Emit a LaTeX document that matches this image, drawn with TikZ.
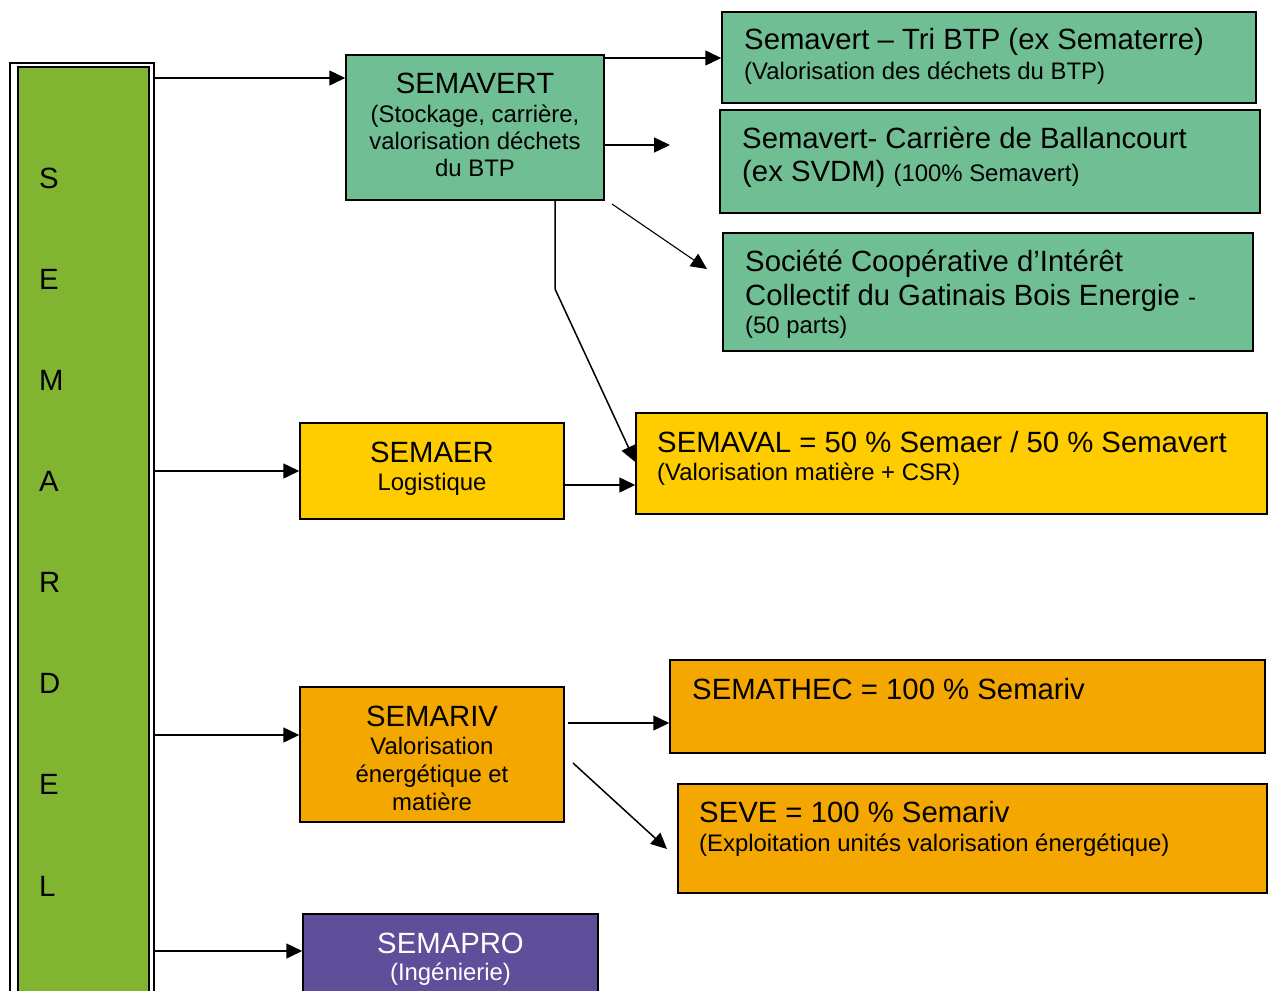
\documentclass[tikz,border=0pt]{standalone}
\usepackage{fontspec}
\setmainfont{Liberation Sans}
\usetikzlibrary{arrows.meta,fit}
\definecolor{bargreen}{HTML}{80B431}
\definecolor{boxgreen}{HTML}{70BE94}
\definecolor{boxyellow}{HTML}{FFCC00}
\definecolor{boxorange}{HTML}{F4A700}
\definecolor{boxpurple}{HTML}{5F4E99}
\newcommand{\bigf}{\fontsize{29.3}{33}\selectfont}
\newcommand{\smf}{\fontsize{23.9}{27}\selectfont}
\begin{document}
\begin{tikzpicture}[x=1pt,y=-1pt,
  box/.style={draw=black,line width=1.5pt,inner sep=0pt},
  arr/.style={line width=1.5pt,-{Triangle[length=16pt,width=15pt]}},
  big/.style={inner sep=0pt,font=\bigf},
  sm/.style={inner sep=0pt,font=\smf},
  lw/.style={anchor=base west},
  cw/.style={anchor=base}]
\useasboundingbox (0,0) rectangle (1268,990);
% left frame
\node[box,fit={(10,63) (154,1010)}] (frameout) {};
\node[box,fill=bargreen,line width=1.2pt,fit={(18,67) (149,1010)}] (bar) {};
\foreach \l/\y [count=\i] in {S/188,E/289,M/390,A/491,R/592,D/693,E/794,L/896}
  \node[big,lw] (letter\i) at (39,\y) {\l};
% boxes
\node[box,fill=boxgreen,fit={(346,55) (604,200)}] (semavert) {};
\node[box,fill=boxgreen,fit={(722,12) (1256,103)}] (tri) {};
\node[box,fill=boxgreen,fit={(720,110) (1260,213)}] (carr) {};
\node[box,fill=boxgreen,fit={(723,233) (1253,351)}] (scic) {};
\node[box,fill=boxyellow,fit={(300,423) (564,519)}] (semaer) {};
\node[box,fill=boxyellow,fit={(636,413) (1267,514)}] (semaval) {};
\node[box,fill=boxorange,fit={(300,687) (564,822)}] (semariv) {};
\node[box,fill=boxorange,fit={(670,660) (1265,753)}] (semathec) {};
\node[box,fill=boxorange,fit={(678,784) (1267,893)}] (seve) {};
\node[box,fill=boxpurple,fit={(303,914) (598,1010)}] (semapro) {};
% texts
\node[big,cw] (t1) at (475,93) {SEMAVERT};
\node[sm,cw] (t2) at (475,122) {(Stockage, carrière,};
\node[sm,cw] (t3) at (475,149.5) {valorisation déchets};
\node[sm,cw] (t4) at (475,176.5) {du BTP};
\node[big,lw] (t5) at (744,50) {Semavert – Tri BTP (ex Sematerre)};
\node[sm,lw] (t6) at (744,79.5) {(Valorisation des déchets du BTP)};
\node[big,lw] (t7) at (742,148) {Semavert- Carrière de Ballancourt};
\node[big,lw] (t8) at (742,181) {(ex SVDM) {\smf (100\% Semavert)}};
\node[big,lw] (t9) at (745,271) {Société Coopérative d’Intérêt};
\node[big,lw] (t10) at (745,305) {Collectif du Gatinais Bois Energie {\smf -}};
\node[sm,lw] (t11) at (745,333.5) {(50 parts)};
\node[big,cw] (t12) at (432,462) {SEMAER};
\node[sm,cw] (t13) at (432,490.5) {Logistique};
\node[big,lw] (t14) at (657,452) {SEMAVAL = 50 \% Semaer / 50 \% Semavert};
\node[sm,lw] (t15) at (657,480.5) {(Valorisation matière + CSR)};
\node[big,cw] (t16) at (432,726) {SEMARIV};
\node[sm,cw] (t17) at (432,754.5) {Valorisation};
\node[sm,cw] (t18) at (432,782.5) {énergétique et};
\node[sm,cw] (t19) at (432,810.5) {matière};
\node[big,lw] (t20) at (692,699) {SEMATHEC = 100 \% Semariv};
\node[big,lw] (t21) at (699,822) {SEVE = 100 \% Semariv};
\node[sm,lw] (t22) at (699,851.5) {(Exploitation unités valorisation énergétique)};
\node[big,cw,text=white] (t23) at (450.5,953) {SEMAPRO};
\node[sm,cw,text=white] (t24) at (450.5,980.5) {(Ingénierie)};
% free coordinates
\coordinate (c1) at (670,145);
\coordinate (d1) at (612,204);
\coordinate (d2) at (707,269);
\coordinate (bend) at (555,289);
\coordinate (e1) at (573,763);
\coordinate (e2) at (667,849);
% connectors
\draw[arr] (frameout.east |- 0,78) -- (semavert.west |- 0,78);
\draw[arr] (semavert.east |- 0,58) -- (tri.west |- 0,58);
\draw[arr] (semavert.east |- 0,145) -- (c1);
\draw[arr,line width=1.1pt] (d1) -- (d2);
\draw[arr] (semavert.south -| bend) -- (bend) -- (semaval.west |- 0,462);
\draw[arr] (frameout.east |- 0,471) -- (semaer.west |- 0,471);
\draw[arr] (semaer.east |- 0,485) -- (semaval.west |- 0,485);
\draw[arr] (frameout.east |- 0,735) -- (semariv.west |- 0,735);
\draw[arr] ([xshift=3pt]semariv.east |- 0,723) -- (semathec.west |- 0,723);
\draw[arr] (e1) -- (e2);
\draw[arr] (frameout.east |- 0,951) -- (semapro.west |- 0,951);
\end{tikzpicture}
\end{document}
